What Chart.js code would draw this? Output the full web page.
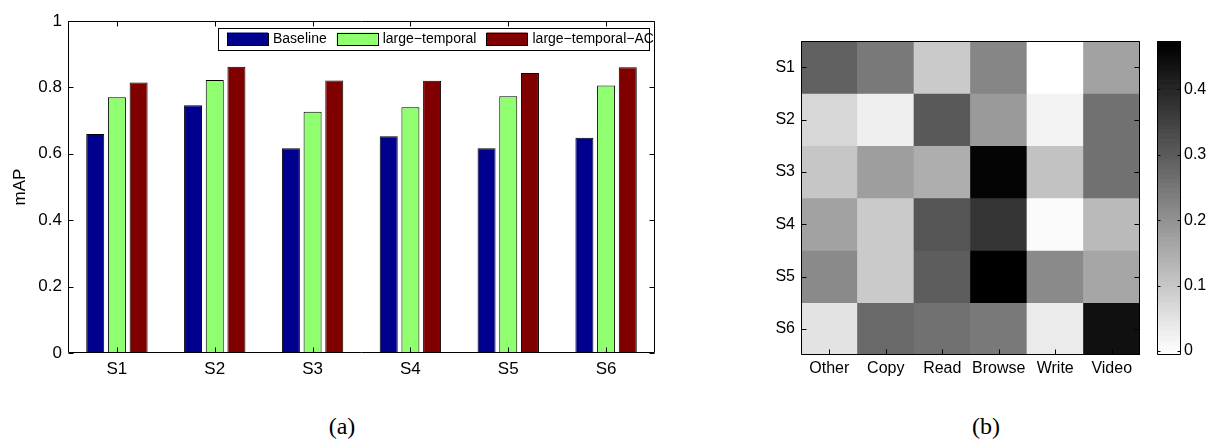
<!DOCTYPE html>
<html><head><meta charset="utf-8">
<script src="https://cdn.jsdelivr.net/npm/chart.js@4/dist/chart.umd.min.js"></script>
<style>
html,body{margin:0;padding:0;background:#fff;width:1208px;height:444px;overflow:hidden;position:relative;}
canvas{position:absolute;}
.cap{position:absolute;font-family:"Liberation Serif","DejaVu Serif",serif;font-size:24px;line-height:24px;color:#000;transform:translateX(-50%);}
</style></head><body>
<canvas id="bar" style="left:0;top:0" width="690" height="400"></canvas>
<canvas id="heat" style="left:720px;top:0" width="440" height="400"></canvas>
<canvas id="cbar" style="left:1140px;top:0" width="68" height="400"></canvas>
<div class="cap" style="left:342px;top:414px">(a)</div>
<div class="cap" style="left:986px;top:414px">(b)</div>
<script>
// ---- data: bar chart (a) ----
const categories = ['S1','S2','S3','S4','S5','S6'];
const seriesNames = ['Baseline','large\u2212temporal','large\u2212temporal\u2212AC'];
const baseline        = [0.660, 0.746, 0.617, 0.653, 0.617, 0.648];
const largeTemporal   = [0.770, 0.822, 0.727, 0.740, 0.773, 0.806];
const largeTemporalAC = [0.815, 0.862, 0.821, 0.820, 0.843, 0.861];
const yTicks = [0, 0.2, 0.4, 0.6, 0.8, 1];

// ---- data: heat map (b) ----
const columns = ['Other','Copy','Read','Browse','Write','Video'];
const rows = ['S1','S2','S3','S4','S5','S6'];
const heatS1 = [0.293, 0.244, 0.098, 0.224, -0.006, 0.173];
const heatS2 = [0.073, 0.030, 0.308, 0.188, 0.022, 0.263];
const heatS3 = [0.101, 0.177, 0.146, 0.459, 0.113, 0.259];
const heatS4 = [0.169, 0.092, 0.314, 0.374, 0.007, 0.128];
const heatS5 = [0.214, 0.092, 0.301, 0.474, 0.214, 0.162];
const heatS6 = [0.052, 0.278, 0.263, 0.248, 0.037, 0.440];
const colorbarTicks = [0, 0.1, 0.2, 0.3, 0.4];

const FONT = '"Liberation Sans", Arial, Helvetica, sans-serif';
Chart.defaults.font.family = FONT;
Chart.defaults.color = '#000';

// frame + inward ticks plugin
function framePlugin(opts){
  return {
    id:'frame'+Math.floor(Math.random()*1e6),
    afterDraw(chart){
      const ctx = chart.ctx, a = chart.chartArea;
      ctx.save();
      ctx.strokeStyle = '#000'; ctx.lineWidth = 1;
      const L = Math.round(a.left)+0.5, R = Math.round(a.right)-0.5, T = Math.round(a.top)+0.5, B = Math.round(a.bottom)-0.5;
      ctx.beginPath();
      ctx.rect(L, T, R-L, B-T);
      ctx.stroke();
      const tl = opts.len;
      ctx.beginPath();
      if (opts.x) {
        const sx = chart.scales.x;
        sx.ticks.forEach((t,i)=>{
          const p = Math.round(sx.getPixelForTick(i))+0.5;
          if (opts.x.includes('b')) { ctx.moveTo(p,B); ctx.lineTo(p,B-tl); }
          if (opts.x.includes('t')) { ctx.moveTo(p,T); ctx.lineTo(p,T+tl); }
        });
      }
      if (opts.y) {
        const sy = chart.scales.y;
        sy.ticks.forEach((t,i)=>{
          const p = Math.round(sy.getPixelForValue(t.value))+0.5;
          if (opts.y.includes('l')) { ctx.moveTo(L,p); ctx.lineTo(L+tl,p); }
          if (opts.y.includes('r')) { ctx.moveTo(R,p); ctx.lineTo(R-tl,p); }
        });
      }
      ctx.stroke();
      ctx.restore();
    }
  };
}

// legend drawn inside the axes
const boxLegend = {
  id:'boxLegend',
  afterDraw(chart){
    const ctx = chart.ctx, a = chart.chartArea;
    const x0 = a.left + 150, y0 = a.top + 6.5, w = 431, h = 22;
    ctx.save();
    ctx.fillStyle = '#fff';
    ctx.fillRect(x0, y0, w, h);
    ctx.strokeStyle = '#000'; ctx.lineWidth = 1;
    ctx.strokeRect(Math.round(x0)+0.5, Math.round(y0)+0.5, w, h);
    ctx.font = '14px ' + FONT;
    ctx.textBaseline = 'middle';
    let x = x0 + 9;
    chart.data.datasets.forEach(ds=>{
      ctx.fillStyle = ds.backgroundColor;
      ctx.fillRect(x, y0+5, 41, 13);
      ctx.strokeStyle = '#000';
      ctx.strokeRect(Math.round(x)+0.5, Math.round(y0+5)+0.5, 41, 12);
      ctx.fillStyle = '#000';
      ctx.fillText(ds.label, x + 46, y0 + h/2 + 1);
      x += 46 + ctx.measureText(ds.label).width + 10;
    });
    ctx.restore();
  }
};

new Chart(document.getElementById('bar'), {
  type:'bar',
  data:{
    labels: categories,
    datasets:[
      {label:seriesNames[0], data:baseline,        backgroundColor:'#00008F'},
      {label:seriesNames[1], data:largeTemporal,   backgroundColor:'#8FFF70'},
      {label:seriesNames[2], data:largeTemporalAC, backgroundColor:'#800000'}
    ].map(d=>Object.assign(d,{borderColor:'#000', borderWidth:1, barPercentage:0.83, categoryPercentage:0.665}))
  },
  options:{
    responsive:false, animation:false, devicePixelRatio:1,
    layout:{padding:{top:21, right:35, left:0, bottom:0}},
    plugins:{legend:{display:false}, tooltip:{enabled:false}},
    scales:{
      x:{
        grid:{display:false, drawTicks:false}, border:{display:false},
        ticks:{font:{size:17}, color:'#000', padding:6},
        afterFit(s){ s.height = 47; }
      },
      y:{
        min:0, max:1,
        afterBuildTicks(s){ s.ticks = yTicks.map(v=>({value:v})); },
        grid:{display:false, drawTicks:false}, border:{display:false},
        ticks:{font:{size:17}, color:'#000', padding:6, callback:v=>String(v)},
        title:{display:true, text:'mAP', font:{size:17}, color:'#000', padding:{top:10,bottom:0}},
        afterFit(s){ s.width = 68; }
      }
    }
  },
  plugins:[framePlugin({len:5, x:'bt', y:'lr'}), boxLegend]
});

// heat map
const heatRows = [heatS1, heatS2, heatS3, heatS4, heatS5, heatS6];
const allVals = heatRows.flat();
const hmin = Math.min(...allVals), hmax = Math.max(...allVals);
function grayIdx(v){ const t=(v-hmin)/(hmax-hmin); return Math.max(0, Math.min(63, Math.floor(t*64))); }
function grayOf(idx){ const g=Math.round(255*(1-idx/63)); return `rgb(${g},${g},${g})`; }

new Chart(document.getElementById('heat'), {
  type:'bar',
  data:{
    labels: columns,
    datasets: heatRows.map((row,r)=>({
      label: rows[r],
      data: row.map(()=>[r+0.5, r+1.5]),
      backgroundColor: row.map(v=>grayOf(grayIdx(v))),
      borderWidth:0, barPercentage:1, categoryPercentage:1, grouped:false
    }))
  },
  options:{
    responsive:false, animation:false, devicePixelRatio:1,
    layout:{padding:{top:41, right:20, left:0, bottom:0}},
    plugins:{legend:{display:false}, tooltip:{enabled:false}},
    scales:{
      x:{
        grid:{display:false, drawTicks:false}, border:{display:false},
        ticks:{font:{size:16}, color:'#000', padding:4, autoSkip:false, maxRotation:0},
        afterFit(s){ s.height = 45; }
      },
      y:{
        type:'linear', reverse:true, min:0.5, max:6.5,
        afterBuildTicks(s){ s.ticks = rows.map((_,i)=>({value:i+1})); },
        grid:{display:false, drawTicks:false}, border:{display:false},
        ticks:{font:{size:16}, color:'#000', padding:6, callback:v=>rows[v-1]},
        afterFit(s){ s.width = 81; }
      }
    }
  },
  plugins:[framePlugin({len:5, x:'b', y:'lr'})]
});

// colour bar
const cbarFill = {
  id:'cbarFill',
  beforeDraw(chart){
    const ctx = chart.ctx, a = chart.chartArea, sy = chart.scales.y;
    ctx.save();
    for (let i=0;i<64;i++){
      const v0 = hmin + (hmax-hmin)*i/64, v1 = hmin + (hmax-hmin)*(i+1)/64;
      const y0 = sy.getPixelForValue(v0), y1 = sy.getPixelForValue(v1);
      ctx.fillStyle = grayOf(i);
      ctx.fillRect(a.left, y1, a.right-a.left, y0-y1+0.6);
    }
    ctx.restore();
  }
};
new Chart(document.getElementById('cbar'), {
  type:'bar',
  data:{labels:[''], datasets:[]},
  options:{
    responsive:false, animation:false, devicePixelRatio:1,
    layout:{padding:{top:41, right:0, left:17, bottom:45}},
    plugins:{legend:{display:false}, tooltip:{enabled:false}},
    scales:{
      x:{display:false},
      y:{
        position:'right', min:hmin, max:hmax,
        afterBuildTicks(s){ s.ticks = colorbarTicks.map(v=>({value:v})); },
        grid:{display:false, drawTicks:false}, border:{display:false},
        ticks:{font:{size:16}, color:'#000', padding:3, callback:v=>String(v)},
        afterFit(s){ s.width = 27; }
      }
    }
  },
  plugins:[cbarFill, framePlugin({len:3, y:'lr'})]
});
</script>
</body></html>
